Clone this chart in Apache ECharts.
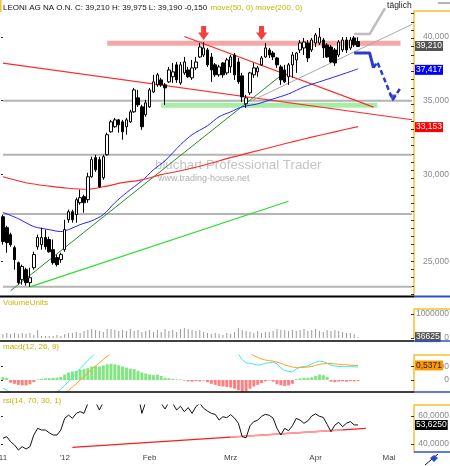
<!DOCTYPE html>
<html><head><meta charset="utf-8">
<script src="https://cdn.jsdelivr.net/npm/echarts@6/dist/echarts.min.js"></script>
<style>html,body{margin:0;padding:0;background:#fff}#c{width:450px;height:466px}</style>
</head><body><div id="c"></div><script>
const FONT = 'Liberation Sans, Arial, sans-serif';
const N = 107;
const categories = Array.from({length: N}, (_, i) => String(i));
const xTickIdx = [0, 16, 38, 59, 81, 100];
const xTickText = ['11', "'12", 'Feb', 'Mrz', 'Apr', 'Mai'];
const priceTicks = [25, 30, 35, 40];
const priceMin = 23.24, priceMax = 42.24;

// [open, close, low, high]
const ohlc = [
[27.44,26.05,25.88,27.56],[26.82,25.99,25.45,26.93],[26.43,25.88,25.77,26.54],[25.72,25.08,24.56,25.83],
[24.92,23.90,23.80,24.98],[24.05,24.72,23.80,24.82],[24.56,23.90,23.75,24.66],[23.90,24.15,23.69,24.66],
[24.66,25.35,24.56,25.50],[25.77,26.27,25.61,26.43],[25.88,26.27,25.61,26.82],[26.27,25.77,25.61,26.71],
[26.16,25.50,25.45,26.32],[25.61,24.92,24.82,26.16],[25.19,24.82,24.72,25.35],[25.08,25.35,24.92,25.45],
[25.61,26.71,25.50,27.27],[27.27,27.73,27.10,27.85],[27.73,27.27,27.10,27.85],[27.56,28.44,27.10,28.56],
[28.26,28.56,28.14,29.04],[28.62,28.26,27.67,28.74],[28.44,29.84,28.26,30.09],[29.84,30.93,29.78,31.12],
[31.06,30.28,30.15,31.25],[30.93,29.22,29.16,31.12],[29.78,31.12,29.65,31.25],[31.25,32.59,31.19,32.73],
[32.79,33.48,32.73,33.62],[33.14,33.62,33.07,33.76],[33.62,33.28,32.73,33.69],[33.48,32.79,32.25,33.62],
[33.14,33.62,32.59,33.76],[33.48,34.19,33.41,34.34],[34.19,35.80,34.12,35.95],[35.21,34.70,34.55,35.80],
[34.55,33.14,32.93,34.70],[33.98,34.84,33.84,35.06],[34.55,35.80,34.48,35.95],[35.65,36.41,35.58,36.95],
[36.18,36.95,36.03,37.10],[36.56,36.18,36.03,36.72],[36.18,35.95,34.70,36.33],[36.41,37.33,36.33,37.57],
[36.80,37.18,36.33,37.88],[37.73,36.56,36.33,37.96],[36.33,37.73,36.18,37.96],[37.10,37.96,36.95,38.36],
[37.33,36.80,36.72,37.57],[36.72,37.49,36.56,38.12],[37.49,37.96,37.33,38.36],[38.36,39.17,38.28,39.50],
[38.52,39.09,38.36,39.58],[38.93,37.73,37.57,39.09],[38.36,37.33,36.41,38.68],[37.73,36.95,36.80,37.88],
[36.95,37.57,36.80,37.73],[37.88,36.95,36.72,37.96],[37.10,38.12,36.95,38.28],[37.57,38.36,37.10,38.52],
[38.52,36.95,36.56,38.68],[37.96,36.41,36.26,38.28],[36.87,35.28,34.91,37.10],[34.77,35.21,34.48,35.43],
[35.58,37.10,35.43,37.18],[36.95,37.49,36.72,37.88],[37.18,37.49,36.80,37.65],[37.73,38.28,37.65,38.44],
[38.36,39.09,38.28,39.50],[38.93,38.52,38.28,39.09],[38.68,38.36,38.12,38.84],[38.28,37.73,37.49,38.36],
[37.57,36.56,36.18,37.73],[37.33,36.41,36.33,37.73],[36.80,37.73,36.18,37.88],[37.73,38.52,36.72,38.76],
[38.12,38.68,37.10,38.76],[38.93,39.50,38.68,39.75],[39.09,39.58,38.52,39.92],[39.50,38.28,37.96,39.75],
[38.93,39.75,38.76,39.92],[39.50,40.17,39.17,40.34],[39.50,40.00,39.34,40.76],[39.75,39.09,38.28,39.92],
[39.34,38.36,38.28,39.50],[39.17,37.96,37.88,39.34],[38.93,37.88,37.65,39.09],[38.52,39.58,38.36,39.75],
[38.93,39.75,38.76,40.00],[39.75,38.93,38.68,40.00],[39.09,39.75,38.93,40.00],[39.92,39.36,39.17,40.08],
[39.62,39.21,39.19,39.975]
];
const lastClose = 39.21;

const ma50Idx = [0,4,8,12,15,17,20,23,26,29,32,36,39,42,46,49,53,56,59,62,66,70,74,78,82,86,89,92];
const ma50Val = [27.69,27.33,26.88,26.71,26.60,26.71,26.99,27.21,27.56,28.26,28.86,29.59,30.28,30.86,31.91,32.59,33.21,33.84,34.19,34.55,34.77,35.13,35.50,36.03,36.41,36.80,37.10,37.417];
const ma200Idx = [0,6,12,17,22,26,31,36,41,46,52,59,65,70,75,80,86,92];
const ma200Val = [29.84,29.47,29.26,29.13,29.07,29.22,29.47,29.65,29.97,30.22,30.57,31.06,31.45,31.78,32.11,32.42,32.79,33.153];

// horizontal levels (full width)
const levelLines = [35.0, 31.25, 27.6, 23.69];
// bands: [fromIdx, toIdx, price]
const resistBand = [27, 103, 39.47];
const supportBand = [41, 97, 34.66];
// trend lines: [[idx, price], [idx, price]]
const redLong = [[0, 37.87], [106, 33.63]];
const redResist = [[47, 40.04], [96, 34.53]];
const greenDark = [[2, 23.50], [73, 37.13]];
const greenBright = [[7, 23.69], [74, 28.35]];
const grayChannel = [[64, 34.93], [106, 41.08]];
const levelTexts = [[34, 40.21, '39,47'], [6, 32.45, '31,25'], [53, 24.10, '23,69']];
const arrowMarks = [[52, 40.34], [67, 40.34]];
const projSolid = [[91, 38.68], [95, 38.68], [96, 37.49]];
const projDashed = [[96, 37.49], [97, 37.96], [101, 35.06], [103, 35.95]];
const projHead = [101, 35.2];
const dailyBracket = [[91, 40.25], [95, 40.25], [99, 42.49]];

const volume = [
168000,210000,168000,210000,168000,210000,168000,210000,126000,336000,
84000,84000,84000,84000,126000,84000,
168000,210000,210000,252000,210000,294000,
336000,378000,336000,294000,252000,378000,
378000,336000,294000,336000,294000,378000,
294000,336000,252000,294000,336000,252000,
336000,252000,378000,294000,336000,252000,378000,420000,
378000,336000,294000,336000,252000,
210000,168000,210000,168000,126000,210000,168000,252000,
420000,336000,294000,252000,210000,
294000,210000,252000,252000,294000,
378000,336000,336000,294000,336000,
294000,336000,378000,294000,336000,378000,294000,252000,
336000,294000,336000,294000,252000,210000,210000,168000,36625
];
const lastVolume = 36625;
const volTicks = [0, 1000000];

const macdHist = [0.1,0.08,-0.1,-0.14,-0.18,-0.2,-0.2,-0.16,-0.08,0.02,0.04,0.06,0.07,0.08,0.09,0.12,0.2,0.28,0.32,0.34,0.38,0.4,0.44,0.5,0.52,0.5,0.54,0.58,0.6,0.58,0.55,0.5,0.46,0.42,0.4,0.34,0.28,0.24,0.2,0.18,0.2,0.15,0.08,0.06,0.04,0.02,0.02,-0.02,-0.05,-0.06,-0.04,-0.05,-0.02,-0.08,-0.14,-0.18,-0.22,-0.24,-0.26,-0.28,-0.32,-0.38,-0.44,-0.42,-0.32,-0.24,-0.18,-0.12,-0.05,-0.02,-0.06,-0.16,-0.2,-0.22,-0.2,-0.14,0.03,0.06,0.08,0.08,0.1,0.15,0.2,0.18,0.12,-0.06,-0.08,-0.06,-0.05,-0.06,-0.04,-0.05,-0.04];
const macdLine = [-0.30,-0.38,-0.48,-0.58,-0.7,-0.8,-0.88,-0.9,-0.85,-0.78,-0.72,-0.66,-0.6,-0.54,-0.45,-0.35,-0.2,-0.05,0.1,0.26,0.42,0.58,0.72,0.86,1.0,1.08,1.2,1.35,1.48,1.58,1.62,1.6,1.6,1.62,1.7,1.7,1.6,1.58,1.6,1.65,1.7,1.68,1.6,1.62,1.62,1.58,1.6,1.6,1.55,1.55,1.57,1.62,1.62,1.55,1.45,1.38,1.32,1.26,1.22,1.18,1.1,0.96,0.75,0.63,0.62,0.58,0.55,0.57,0.62,0.64,0.66,0.6,0.45,0.35,0.32,0.3,0.4,0.48,0.5,0.52,0.6,0.66,0.7,0.68,0.62,0.55,0.52,0.5,0.5,0.49,0.5,0.49,0.48];
const macdSignal = [-0.46,-0.47,-0.5,-0.56,-0.62,-0.68,-0.72,-0.76,-0.78,-0.78,-0.76,-0.74,-0.72,-0.68,-0.62,-0.56,-0.48,-0.38,-0.26,-0.14,0.0,0.12,0.26,0.4,0.52,0.64,0.76,0.88,1.0,1.1,1.18,1.25,1.3,1.35,1.4,1.42,1.44,1.46,1.48,1.5,1.52,1.54,1.56,1.58,1.6,1.6,1.6,1.6,1.6,1.6,1.6,1.6,1.6,1.6,1.58,1.55,1.52,1.48,1.45,1.42,1.38,1.3,1.2,1.08,0.98,0.9,0.84,0.78,0.74,0.72,0.7,0.66,0.62,0.56,0.52,0.48,0.46,0.46,0.47,0.48,0.5,0.54,0.58,0.6,0.61,0.61,0.6,0.58,0.57,0.56,0.55,0.54,0.5371];
const macdTicks = [0, 0.5];

const rsi = [44.1,45.2,41.6,39.3,35.7,38.1,36.4,38.1,46.4,51.2,50,50,48,46.4,46.4,50,58.3,60.7,58.3,61.9,63.1,61.9,69,72,70,64.3,70,75,78,80,78,76,72,74,78,76,61.9,70,74,76,72,69,65,70,69,64.3,67,63.1,66,61.9,66.7,69,65.5,63.5,61.9,61.2,57.1,59.5,58.8,61,58.5,54.8,45.2,44.5,53,56,57,59.8,61.2,60.5,58.5,51.2,46.4,51.2,49.5,53,58.3,57.1,54.8,56.5,60,61.5,59.8,59,54,48.8,53.5,55.5,52.4,54.8,56,53.6,53.625];
const rsiTrend = [[18, 37.6], [94, 51.2]];
const rsiTrendHi = [[59, 44.9], [88, 50.1]];
const rsiTicks = [40, 60];

// ---------- build ----------
const L = Math.log;
const lnPt = p => [p[0], L(p[1])];
const commaFix = (v, d) => v.toFixed(d).replace('.', ',');

function seg(pts, color, width, z, extra) {
  return Object.assign({
    type: 'line', xAxisIndex: 0, yAxisIndex: 0, data: pts.map(lnPt),
    symbol: 'none', silent: true, z: z,
    lineStyle: {color: color, width: width}
  }, extra || {});
}
function badge(value, text, bg, fg) {
  return {
    silent: true, symbol: ['none', 'none'], animation: false,
    lineStyle: {color: 'rgba(255,255,255,0)', width: 0, opacity: 1},
    emphasis: {disabled: true},
    label: {show: true, position: 'end', distance: 1, formatter: text, backgroundColor: bg,
      color: fg, fontSize: 8.5, fontFamily: FONT, padding: [1, 1, 0, 1], opacity: 1},
    data: [{yAxis: value}]
  };
}

const lnMin = L(priceMin), lnMax = L(priceMax);
const mainTicks = [];
for (let v = L(25); v <= lnMax; v += 0.0173) mainTicks.push(v);
for (let v = L(25) - 0.0173; v >= lnMin; v -= 0.0173) mainTicks.push(v);

const grids = [
  {left: 1, right: 36, top: 11, height: 285},
  {left: 1, right: 36, top: 309, height: 29},
  {left: 1, right: 36, top: 355, height: 37},
  {left: 1, right: 36, top: 405, height: 47}
].map(g => Object.assign(g, {outerBoundsMode: 'none', containLabel: false}));

const xAxes = [0, 1, 2, 3].map(i => ({
  type: 'category', gridIndex: i, data: categories, boundaryGap: true,
  axisLine: {show: false}, axisTick: {show: false}, splitLine: {show: false},
  axisLabel: i === 3 ? {
    show: true, interval: (idx) => xTickIdx.indexOf(idx) >= 0,
    formatter: (val, idx) => xTickText[xTickIdx.indexOf(idx)],
    color: '#444', fontSize: 8, fontFamily: FONT, margin: 2
  } : {show: false}
}));

const ORANGE = '#f2c232';
function yAx(grid, min, max, labels, fmt, ticks) {
  return {
    type: 'value', gridIndex: grid, position: 'right', min: min, max: max,
    axisLine: {show: true, lineStyle: {color: ORANGE, width: 1.5}},
    axisTick: {show: true, inside: true, length: 3, lineStyle: {color: '#333', width: 1}, customValues: ticks || labels},
    axisLabel: {show: true, customValues: labels, formatter: fmt, align: 'right', margin: 35,
      color: '#8a8a8a', fontSize: 8.5, fontFamily: FONT},
    splitLine: {show: false}
  };
}
function yLeft(grid, min, max, ticks) {
  return {
    type: 'value', gridIndex: grid, position: 'left', min: min, max: max,
    axisLine: {show: false}, axisLabel: {show: false}, splitLine: {show: false},
    axisTick: {show: true, inside: true, length: 2, lineStyle: {color: '#333'}, customValues: ticks}
  };
}
const yAxes = [
  yAx(0, lnMin, lnMax, priceTicks.map(L), v => commaFix(Math.exp(v), 3), mainTicks),
  yAx(1, 0, 1208000, volTicks, v => String(Math.round(v))),
  yAx(2, -0.444, 0.926, macdTicks, v => v === 0 ? '0' : commaFix(v, 4)),
  yAx(3, 34.29, 67.86, rsiTicks, v => commaFix(v, 4)),
  yLeft(0, lnMin, lnMax, priceTicks.map(L)),
  yLeft(2, -0.444, 0.926, macdTicks),
  yLeft(3, 34.29, 67.86, rsiTicks)
];

const series = [];
levelLines.forEach(p => series.push(seg([[0, p], [106, p]], '#b4b4b4', 2, 1)));
series.push(seg([[resistBand[0], resistBand[2]], [resistBand[1], resistBand[2]]], '#f7a6a6', 5, 1));
series.push(seg([[supportBand[0], supportBand[2]], [supportBand[1], supportBand[2]]], '#a6eea6', 5, 1));
series.push(seg(redLong, '#ff2a2a', 1.2, 2));
series.push(seg(redResist, '#ff2a2a', 1.2, 2));
series.push(seg(greenBright, '#2fdc2f', 1.2, 2));
series.push(seg(greenDark, '#2a8a2a', 1, 2));
series.push(seg(grayChannel, '#a8a8a8', 1, 2));
series.push({type: 'line', xAxisIndex: 0, yAxisIndex: 0, z: 2, symbol: 'none', smooth: 0.3, silent: true,
  data: ma50Idx.map((k, j) => [k, L(ma50Val[j])]), lineStyle: {color: '#2626ff', width: 1},
  markLine: badge(L(ma50Val[ma50Val.length - 1]), '37,417', '#0000ff', '#fff')});
series.push({type: 'line', xAxisIndex: 0, yAxisIndex: 0, z: 2, symbol: 'none', smooth: 0.3, silent: true,
  data: ma200Idx.map((k, j) => [k, L(ma200Val[j])]), lineStyle: {color: '#ff2a2a', width: 1.2},
  markLine: badge(L(ma200Val[ma200Val.length - 1]), '33,153', '#ff0000', '#fff')});
series.push({type: 'candlestick', xAxisIndex: 0, yAxisIndex: 0, z: 3, barWidth: 3,
  data: ohlc.map(d => d.map(L)),
  itemStyle: {color: '#ffffff', color0: '#000000', borderColor: '#000000', borderColor0: '#000000', borderWidth: 1},
  markLine: badge(L(lastClose), '39,210', '#555555', '#fff')});
series.push({type: 'scatter', xAxisIndex: 0, yAxisIndex: 0, z: 4, symbolSize: 1, silent: true,
  itemStyle: {opacity: 0},
  data: levelTexts.map(t => [t[0], L(t[1]), t[2]]),
  label: {show: true, position: 'inside', formatter: p => p.data[2], color: '#9a9a9a', fontSize: 9.5, fontFamily: FONT}});
series.push({type: 'scatter', xAxisIndex: 0, yAxisIndex: 0, z: 5, silent: true,
  symbol: 'path://M3,0 L8,0 L8,6 L11,6 L5.5,13 L0,6 L3,6 Z', symbolSize: [11, 14],
  itemStyle: {color: '#ee1010'}, data: arrowMarks.map(lnPt)});
series.push(seg(projSolid, '#2a3acc', 3, 5));
series.push(seg(projDashed, '#2a3acc', 2.5, 5, {lineStyle: {color: '#2a3acc', width: 2.5, type: [5, 3]}}));
series.push({type: 'scatter', xAxisIndex: 0, yAxisIndex: 0, z: 5, silent: true, symbol: 'triangle',
  symbolRotate: 180, symbolSize: [8, 7], itemStyle: {color: '#2a3acc'}, data: [lnPt(projHead)]});
series.push(seg(dailyBracket, '#bdbdbd', 2.5, 5, {clip: false,
  endLabel: {show: true, formatter: 'täglich', color: '#222', fontSize: 8.5, fontFamily: FONT, distance: 2, offset: [0, -3]}}));

series.push({type: 'bar', xAxisIndex: 1, yAxisIndex: 1, barWidth: 1, data: volume, silent: true,
  itemStyle: {color: '#9a9a9a'}, markLine: badge(lastVolume, '36625', '#555555', '#fff')});
series.push({type: 'bar', xAxisIndex: 2, yAxisIndex: 2, barWidth: 3, data: macdHist, silent: true,
  itemStyle: {color: p => p.value >= 0 ? '#80e680' : '#ff8080'}});
series.push({type: 'line', xAxisIndex: 2, yAxisIndex: 2, data: macdLine, symbol: 'none', silent: true,
  lineStyle: {color: '#3ee8ee', width: 1}});
series.push({type: 'line', xAxisIndex: 2, yAxisIndex: 2, data: macdSignal, symbol: 'none', silent: true,
  lineStyle: {color: '#ffa020', width: 1}, markLine: badge(macdSignal[macdSignal.length - 1], '0,5371', '#ff9900', '#222')});
series.push({type: 'line', xAxisIndex: 3, yAxisIndex: 3, data: rsiTrend, symbol: 'none', silent: true,
  lineStyle: {color: '#ff1a1a', width: 1.3}});
series.push({type: 'line', xAxisIndex: 3, yAxisIndex: 3, data: rsiTrendHi, symbol: 'none', silent: true,
  lineStyle: {color: '#ff9a9a', width: 1.8}});
series.push({type: 'line', xAxisIndex: 3, yAxisIndex: 3, data: rsi, symbol: 'none', silent: true,
  lineStyle: {color: '#111', width: 1}, markLine: badge(rsi[rsi.length - 1], '53,6250', '#000000', '#fff')});

const BLUE = '#3050c8';
function hline(x1, x2, y, color, w) {
  return {type: 'line', shape: {x1: x1, y1: y, x2: x2, y2: y}, style: {stroke: color, lineWidth: w}, silent: true, z: 10};
}
const graphic = [
  {type: 'rect', shape: {x: 0, y: 0, width: 1.5, height: 12}, style: {fill: ORANGE}, silent: true},
  {type: 'text', left: 3, top: 1.5, silent: true, style: {
    text: '{a|LEONI AG NA O.N. C: 39,210 H: 39,975 L: 39,190 -0,150} {b|move(50, 0) move(200, 0)}',
    rich: {a: {fontSize: 8, fontFamily: FONT, fill: '#111'}, b: {fontSize: 8, fontFamily: FONT, fill: '#c8b400'}}}},
  hline(438, 450, 3, '#999', 1.5),
  {type: 'text', x: 155, y: 159, silent: true, z: 0, style: {text: 'bluchart Professional Trader', fontSize: 13.3, fontFamily: FONT, fill: '#c4c4c4'}},
  {type: 'text', x: 158, y: 174, silent: true, z: 0, style: {text: 'www.trading-house.net', fontSize: 9, fontFamily: FONT, fill: '#b0b0b0'}},
  {type: 'text', x: 3, y: 299, silent: true, style: {text: 'VolumeUnits', fontSize: 8, fontFamily: FONT, fill: '#c8b400'}},
  {type: 'text', x: 3, y: 343, silent: true, style: {text: 'macd(12, 26, 9)', fontSize: 8, fontFamily: FONT, fill: '#c8b400'}},
  {type: 'text', x: 3, y: 397, silent: true, style: {text: 'rsi(14, 70, 30, 1)', fontSize: 8, fontFamily: FONT, fill: '#c8b400'}},
  hline(0, 414, 296.5, '#000', 2), hline(414, 450, 296.5, BLUE, 2),
  hline(0, 414, 341, '#000', 1.5), hline(414, 450, 341, BLUE, 1.5),
  hline(0, 414, 392, '#000', 1.5), hline(414, 450, 392, BLUE, 1.5),
  hline(414, 450, 452, BLUE, 1.5),
  hline(414, 450, 11, ORANGE, 1.5), hline(414, 450, 309, ORANGE, 1.5),
  hline(414, 450, 355, ORANGE, 1.5), hline(414, 450, 405, ORANGE, 1.5),
  {type: 'line', shape: {x1: 425, y1: 465, x2: 438, y2: 454}, style: {stroke: '#111', lineWidth: 1}, silent: true},
  {type: 'polygon', shape: {points: [[434, 455], [438, 458], [434, 462], [430, 458]]}, style: {fill: '#2a4ad0'}, silent: true}
];

const chart = echarts.init(document.getElementById('c'), null, {renderer: 'canvas'});
chart.setOption({
  backgroundColor: '#ffffff', animation: false,
  grid: grids, xAxis: xAxes, yAxis: yAxes, series: series, graphic: graphic
});
</script></body></html>
